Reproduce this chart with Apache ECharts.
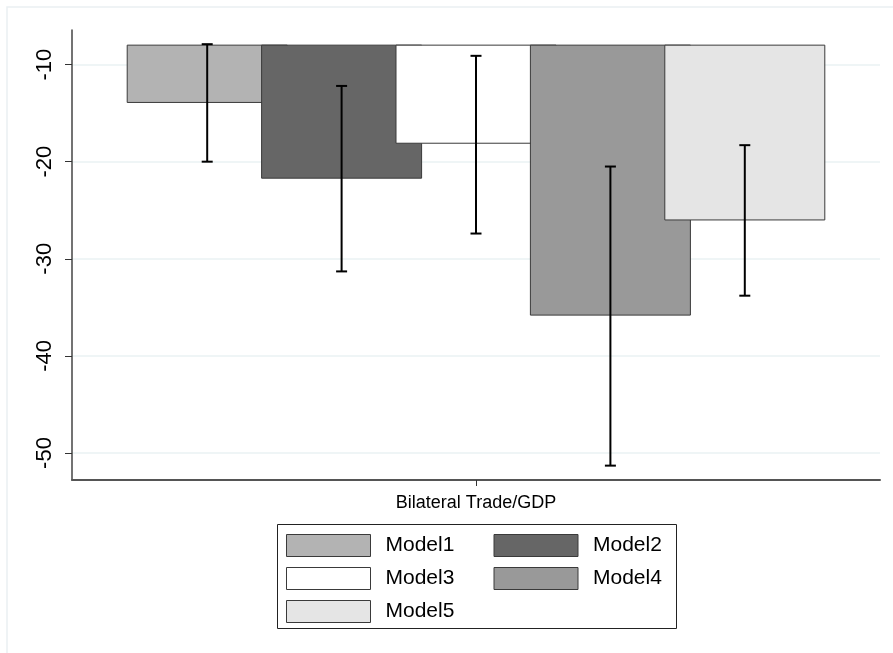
<!DOCTYPE html>
<html>
<head>
<meta charset="utf-8">
<script src="https://cdn.jsdelivr.net/npm/echarts@6/dist/echarts.min.js"></script>
<style>
html,body{margin:0;padding:0;background:#fff;}
#chart{width:893px;height:653px;}
</style>
</head>
<body>
<div id="chart"></div>
<script>
// ---- data ----
var categories = ['Bilateral Trade/GDP'];
var models = ['Model1', 'Model2', 'Model3', 'Model4', 'Model5'];
var barValues = [-13.9, -21.7, -18.1, -35.8, -26.0];
var ciLow = [-20.0, -31.3, -27.4, -51.3, -33.8];
var ciHigh = [-7.9, -12.2, -9.1, -20.5, -18.3];
var barBase = -8;
var yTicks = [-50, -40, -30, -20, -10];
var yMin = -52.78, yMax = -6.44;

// ---- style ----
var colors = ['#b3b3b3', '#666666', '#ffffff', '#999999', '#e5e5e5'];
var BAR_W = 160;
var BAR_GAP = -0.16;
var FONT = 'Liberation Sans, Arial, Helvetica, sans-serif';

var chart = echarts.init(document.getElementById('chart'), null, {renderer: 'canvas'});

function offsetOf(idx) {
  var step = BAR_W * (1 + BAR_GAP);
  return (idx - (models.length - 1) / 2) * step;
}

var series = models.map(function (name, i) {
  return {
    name: name,
    type: 'custom',
    data: [[0, barValues[i], barBase, i]],
    encode: {x: 0, y: [1, 2]},
    itemStyle: {color: colors[i], borderColor: '#3a3a3a', borderWidth: 1},
    silent: true,
    animation: false,
    renderItem: function (params, api) {
      var idx = api.value(3);
      var pV = api.coord([api.value(0), api.value(1)]);
      var pB = api.coord([api.value(0), api.value(2)]);
      var cx = pV[0] + offsetOf(idx);
      return {
        type: 'rect',
        shape: {x: cx - BAR_W / 2, y: Math.min(pV[1], pB[1]), width: BAR_W, height: Math.abs(pV[1] - pB[1])},
        style: {fill: colors[idx], stroke: '#3a3a3a', lineWidth: 1}
      };
    }
  };
});

var errData = models.map(function (name, i) {
  return [0, ciLow[i], ciHigh[i], i];
});

series.push({
  type: 'custom',
  name: 'ci',
  data: errData,
  encode: {x: 0, y: [1, 2]},
  z: 5,
  silent: true,
  animation: false,
  renderItem: function (params, api) {
    var idx = api.value(3);
    var pLo = api.coord([api.value(0), api.value(1)]);
    var pHi = api.coord([api.value(0), api.value(2)]);
    var x = pLo[0] + offsetOf(idx);
    var cap = 5.5;
    var st = {stroke: '#000', lineWidth: 2};
    return {
      type: 'group',
      children: [
        {type: 'line', shape: {x1: x, y1: pLo[1], x2: x, y2: pHi[1]}, style: st},
        {type: 'line', shape: {x1: x - cap, y1: pLo[1], x2: x + cap, y2: pLo[1]}, style: st},
        {type: 'line', shape: {x1: x - cap, y1: pHi[1], x2: x + cap, y2: pHi[1]}, style: st}
      ]
    };
  }
});

var option = {
  backgroundColor: '#ffffff',
  animation: false,
  textStyle: {fontFamily: FONT},
  graphic: [{
    type: 'rect',
    shape: {x: 7, y: 7, width: 920, height: 700},
    style: {fill: 'none', stroke: '#eaf0f2', lineWidth: 1.5},
    silent: true
  }, {
    type: 'rect',
    shape: {x: 277.5, y: 524.5, width: 399, height: 104},
    style: {fill: 'none', stroke: '#222', lineWidth: 1},
    silent: true,
    z: 10
  }],
  grid: {left: 72, right: 13, top: 30, bottom: 173, containLabel: false},
  legend: {
    data: models.map(function (m, i) {
      return {name: m, itemStyle: {color: colors[i], borderColor: '#3a3a3a', borderWidth: 1}};
    }),
    left: 286,
    top: 534,
    width: 420,
    orient: 'horizontal',
    padding: 0,
    itemGap: 10,
    itemWidth: 84,
    itemHeight: 22,
    icon: 'rect',
    selectedMode: false,
    textStyle: {fontFamily: FONT, fontSize: 21, color: '#000', width: 98, padding: [0, 0, 0, 10], lineHeight: 22}
  },
  xAxis: {
    type: 'category',
    data: categories,
    axisLine: {lineStyle: {color: '#555', width: 2}},
    axisTick: {show: true, alignWithLabel: true, length: 6, lineStyle: {color: '#333', width: 1}},
    axisLabel: {fontFamily: FONT, fontSize: 18, color: '#000', margin: 14},
    splitLine: {show: false}
  },
  yAxis: {
    type: 'value',
    min: yMin,
    max: yMax,
    axisLine: {show: true, lineStyle: {color: '#444', width: 1.5}},
    axisTick: {show: true, length: 7, customValues: yTicks, lineStyle: {color: '#333', width: 1}},
    axisLabel: {fontFamily: FONT, fontSize: 22, color: '#000', rotate: 90, margin: 16, customValues: yTicks},
    splitLine: {show: true, lineStyle: {color: '#eaf2f3', width: 1.5}}
  },
  series: series
};

chart.setOption(option);
</script>
</body>
</html>
